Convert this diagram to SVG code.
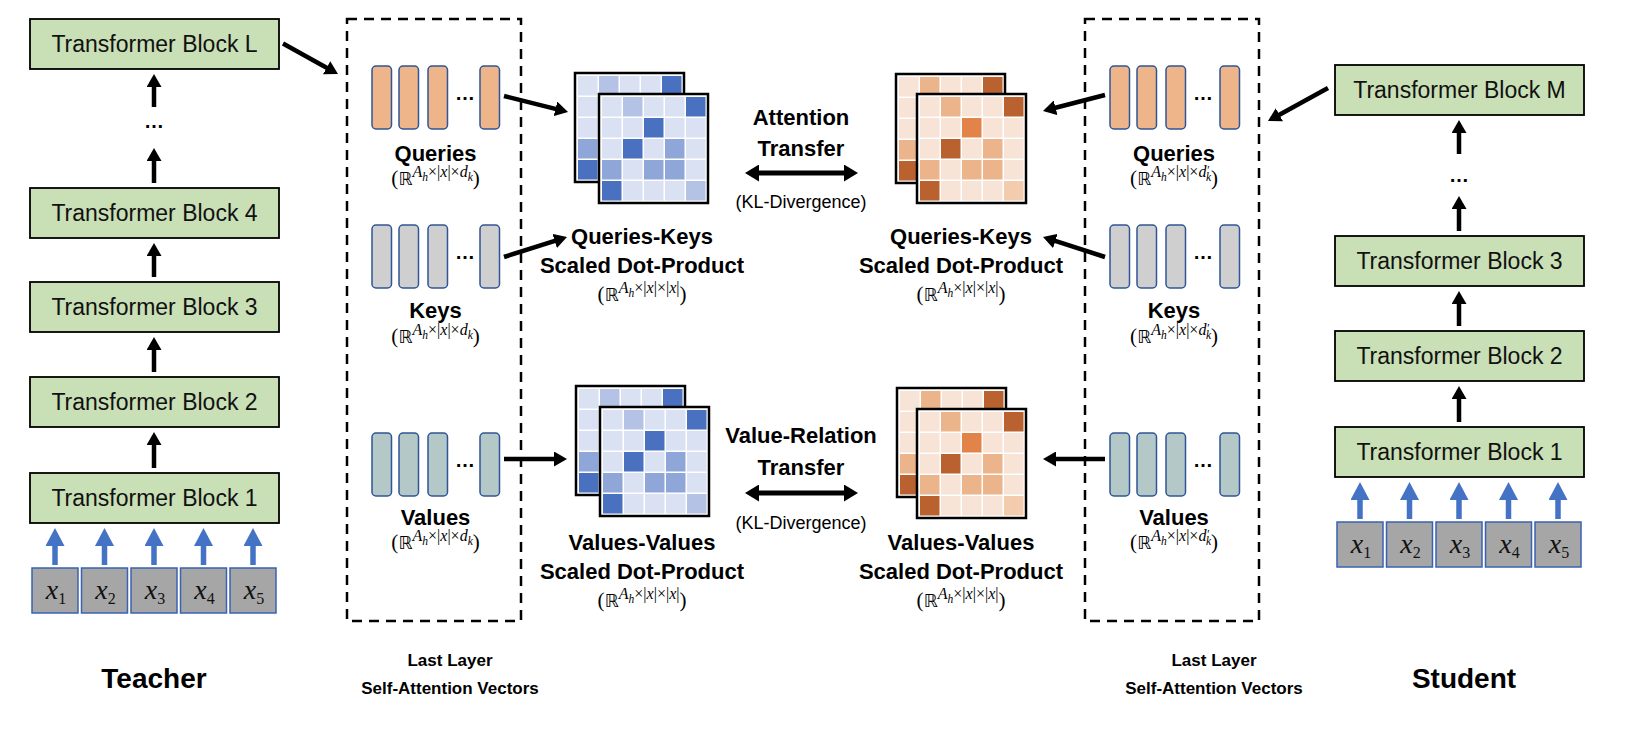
<svg xmlns="http://www.w3.org/2000/svg" width="1630" height="734" viewBox="0 0 1630 734">
<style>
.blk{fill:#C9DFB6;stroke:#000;stroke-width:1.8}
.bt{font-family:"Liberation Sans",Arial,sans-serif;font-size:23px;fill:#111;text-anchor:middle}
.tok{fill:#A6A6A6;stroke:#3A62B0;stroke-width:1.5}
.tt{font-family:"Liberation Serif","DejaVu Serif",serif;font-style:italic;font-size:28px;fill:#111;text-anchor:middle}
.ts{font-style:normal;font-size:16px}
.dash{fill:none;stroke:#000;stroke-width:2.5;stroke-dasharray:10 7}
.barq{fill:#EEB48A;stroke:#2F5597;stroke-width:1.5}
.bark{fill:#CFCFCF;stroke:#2F5597;stroke-width:1.5}
.barv{fill:#B4C8C8;stroke:#2F5597;stroke-width:1.5}
.lbl{font-family:"Liberation Sans",Arial,sans-serif;font-weight:bold;font-size:22px;fill:#000;text-anchor:middle}
.big{font-family:"Liberation Sans",Arial,sans-serif;font-weight:bold;font-size:28px;fill:#000;text-anchor:middle}
.sm{font-family:"Liberation Sans",Arial,sans-serif;font-weight:bold;font-size:17px;fill:#000;text-anchor:middle}
.kl{font-family:"Liberation Sans",Arial,sans-serif;font-size:18px;fill:#000;text-anchor:middle}
.dots{font-family:"Liberation Sans",Arial,sans-serif;font-weight:bold;font-size:20px;fill:#000;text-anchor:middle}
.math{font-family:"Liberation Serif","DejaVu Serif",serif;font-size:21px;fill:#000;text-anchor:middle}
.bb{font-family:"DejaVu Sans",sans-serif;font-size:18px}
.sup{font-size:16px;font-style:italic}
.supn{font-size:16px}
.sub{font-size:11.5px;font-style:italic}
.ar{stroke:#000;stroke-width:4.5;fill:none}
.arb{stroke:#4472C4;stroke-width:5.5;fill:none}
.ard{stroke:#000;stroke-width:5;fill:none}
.mf{fill:#fff;stroke:#000;stroke-width:2.5}
.bL{fill:#DAE1F2}.bM{fill:#B4C3E5}.bN{fill:#8FA6D8}.bD{fill:#4A70C0}
.oL{fill:#F8E4D6}.oM{fill:#EBB48A}.oO{fill:#E2844A}.oD{fill:#BA6130}.oP{fill:#F3CBAD}
</style>
<defs>
<marker id="ah" markerUnits="userSpaceOnUse" viewBox="0 0 13 15" markerWidth="13" markerHeight="15" refX="1" refY="7.5" orient="auto"><path d="M0,0L13,7.5L0,15z" fill="#000"/></marker>
<marker id="ab" markerUnits="userSpaceOnUse" viewBox="0 0 18 19" markerWidth="18" markerHeight="19" refX="1" refY="9.5" orient="auto"><path d="M0,0L18,9.5L0,19z" fill="#4472C4"/></marker>
<marker id="ad" markerUnits="userSpaceOnUse" viewBox="0 0 14 17" markerWidth="14" markerHeight="17" refX="1" refY="8.5" orient="auto-start-reverse"><path d="M0,0L14,8.5L0,17z" fill="#000"/></marker>
<rect id="bar" width="19.5" height="63" rx="4"/>
<rect id="blkr" width="249" height="50"/>
<rect id="tokr" width="46" height="45"/>
<g id="matB">
<rect class="mf" x="0" y="0" width="109" height="109"/>
<rect class="bL" x="3" y="3" width="19.5" height="19.5"/><rect class="bM" x="24" y="3" width="19.5" height="19.5"/><rect class="bL" x="45" y="3" width="19.5" height="19.5"/><rect class="bL" x="66" y="3" width="19.5" height="19.5"/><rect class="bD" x="87" y="3" width="19.5" height="19.5"/>
<rect class="bL" x="3" y="24" width="19.5" height="19.5"/><rect class="bL" x="24" y="24" width="19.5" height="19.5"/><rect class="bD" x="45" y="24" width="19.5" height="19.5"/><rect class="bL" x="66" y="24" width="19.5" height="19.5"/><rect class="bL" x="87" y="24" width="19.5" height="19.5"/>
<rect class="bL" x="3" y="45" width="19.5" height="19.5"/><rect class="bD" x="24" y="45" width="19.5" height="19.5"/><rect class="bL" x="45" y="45" width="19.5" height="19.5"/><rect class="bN" x="66" y="45" width="19.5" height="19.5"/><rect class="bL" x="87" y="45" width="19.5" height="19.5"/>
<rect class="bN" x="3" y="66" width="19.5" height="19.5"/><rect class="bL" x="24" y="66" width="19.5" height="19.5"/><rect class="bN" x="45" y="66" width="19.5" height="19.5"/><rect class="bN" x="66" y="66" width="19.5" height="19.5"/><rect class="bL" x="87" y="66" width="19.5" height="19.5"/>
<rect class="bD" x="3" y="87" width="19.5" height="19.5"/><rect class="bL" x="24" y="87" width="19.5" height="19.5"/><rect class="bL" x="45" y="87" width="19.5" height="19.5"/><rect class="bL" x="66" y="87" width="19.5" height="19.5"/><rect class="bM" x="87" y="87" width="19.5" height="19.5"/>
</g>
<g id="matO">
<rect class="mf" x="0" y="0" width="109" height="109"/>
<rect class="oL" x="3" y="3" width="19.5" height="19.5"/><rect class="oM" x="24" y="3" width="19.5" height="19.5"/><rect class="oL" x="45" y="3" width="19.5" height="19.5"/><rect class="oL" x="66" y="3" width="19.5" height="19.5"/><rect class="oD" x="87" y="3" width="19.5" height="19.5"/>
<rect class="oL" x="3" y="24" width="19.5" height="19.5"/><rect class="oL" x="24" y="24" width="19.5" height="19.5"/><rect class="oO" x="45" y="24" width="19.5" height="19.5"/><rect class="oL" x="66" y="24" width="19.5" height="19.5"/><rect class="oL" x="87" y="24" width="19.5" height="19.5"/>
<rect class="oL" x="3" y="45" width="19.5" height="19.5"/><rect class="oD" x="24" y="45" width="19.5" height="19.5"/><rect class="oL" x="45" y="45" width="19.5" height="19.5"/><rect class="oM" x="66" y="45" width="19.5" height="19.5"/><rect class="oL" x="87" y="45" width="19.5" height="19.5"/>
<rect class="oM" x="3" y="66" width="19.5" height="19.5"/><rect class="oL" x="24" y="66" width="19.5" height="19.5"/><rect class="oM" x="45" y="66" width="19.5" height="19.5"/><rect class="oM" x="66" y="66" width="19.5" height="19.5"/><rect class="oL" x="87" y="66" width="19.5" height="19.5"/>
<rect class="oD" x="3" y="87" width="19.5" height="19.5"/><rect class="oL" x="24" y="87" width="19.5" height="19.5"/><rect class="oL" x="45" y="87" width="19.5" height="19.5"/><rect class="oL" x="66" y="87" width="19.5" height="19.5"/><rect class="oP" x="87" y="87" width="19.5" height="19.5"/>
</g>
</defs>
<rect width="1630" height="734" fill="#fff"/>

<!-- Teacher -->
<g id="teacher">
<g id="t-blockL"><use href="#blkr" class="blk" x="30" y="19"/><text class="bt" x="154.5" y="52">Transformer Block L</text></g>
<text class="dots" x="154" y="128" font-size="22">…</text>
<g id="t-block4"><use href="#blkr" class="blk" x="30" y="188"/><text class="bt" x="154.5" y="221">Transformer Block 4</text></g>
<g id="t-block3"><use href="#blkr" class="blk" x="30" y="282"/><text class="bt" x="154.5" y="315">Transformer Block 3</text></g>
<g id="t-block2"><use href="#blkr" class="blk" x="30" y="377"/><text class="bt" x="154.5" y="410">Transformer Block 2</text></g>
<g id="t-block1"><use href="#blkr" class="blk" x="30" y="473"/><text class="bt" x="154.5" y="506">Transformer Block 1</text></g>
<g id="t-tokens">
<use href="#tokr" class="tok" x="32" y="568"/><text class="tt" x="56" y="599">x<tspan class="ts" dy="5">1</tspan></text>
<use href="#tokr" class="tok" x="81.5" y="568"/><text class="tt" x="105.5" y="599">x<tspan class="ts" dy="5">2</tspan></text>
<use href="#tokr" class="tok" x="131" y="568"/><text class="tt" x="155" y="599">x<tspan class="ts" dy="5">3</tspan></text>
<use href="#tokr" class="tok" x="180.5" y="568"/><text class="tt" x="204.5" y="599">x<tspan class="ts" dy="5">4</tspan></text>
<use href="#tokr" class="tok" x="230" y="568"/><text class="tt" x="254" y="599">x<tspan class="ts" dy="5">5</tspan></text>
</g>
<text class="big" x="154" y="688">Teacher</text>
</g>

<!-- Student -->
<g id="student">
<g id="s-blockM"><use href="#blkr" class="blk" x="1335" y="65"/><text class="bt" x="1459.5" y="98">Transformer Block M</text></g>
<text class="dots" x="1459" y="182" font-size="22">…</text>
<g id="s-block3"><use href="#blkr" class="blk" x="1335" y="236"/><text class="bt" x="1459.5" y="269">Transformer Block 3</text></g>
<g id="s-block2"><use href="#blkr" class="blk" x="1335" y="331"/><text class="bt" x="1459.5" y="364">Transformer Block 2</text></g>
<g id="s-block1"><use href="#blkr" class="blk" x="1335" y="427"/><text class="bt" x="1459.5" y="460">Transformer Block 1</text></g>
<g id="s-tokens">
<use href="#tokr" class="tok" x="1337" y="522"/><text class="tt" x="1361" y="553">x<tspan class="ts" dy="5">1</tspan></text>
<use href="#tokr" class="tok" x="1386.5" y="522"/><text class="tt" x="1410.5" y="553">x<tspan class="ts" dy="5">2</tspan></text>
<use href="#tokr" class="tok" x="1436" y="522"/><text class="tt" x="1460" y="553">x<tspan class="ts" dy="5">3</tspan></text>
<use href="#tokr" class="tok" x="1485.5" y="522"/><text class="tt" x="1509.5" y="553">x<tspan class="ts" dy="5">4</tspan></text>
<use href="#tokr" class="tok" x="1535" y="522"/><text class="tt" x="1559" y="553">x<tspan class="ts" dy="5">5</tspan></text>
</g>
<text class="big" x="1464" y="688">Student</text>
</g>

<!-- Teacher self-attention vectors -->
<g id="t-vectors">
<rect class="dash" x="347" y="19" width="174" height="602"/>
<g id="t-queries">
<use href="#bar" class="barq" x="372" y="66"/><use href="#bar" class="barq" x="399" y="66"/><use href="#bar" class="barq" x="428" y="66"/><use href="#bar" class="barq" x="480" y="66"/>
<text class="dots" x="465" y="100">…</text>
<text class="lbl" x="435.5" y="161">Queries</text>
<text class="math" x="435.5" y="185">(<tspan class="bb">ℝ</tspan><tspan class="sup" dy="-8">A</tspan><tspan class="sub" dy="4">h</tspan><tspan class="supn" dy="-4">×|</tspan><tspan class="sup">x</tspan><tspan class="supn">|×</tspan><tspan class="sup">d</tspan><tspan class="sub" dy="4">k</tspan><tspan dy="4">)</tspan></text>
</g>
<g id="t-keys">
<use href="#bar" class="bark" x="372" y="225"/><use href="#bar" class="bark" x="399" y="225"/><use href="#bar" class="bark" x="428" y="225"/><use href="#bar" class="bark" x="480" y="225"/>
<text class="dots" x="465" y="259">…</text>
<text class="lbl" x="435.5" y="318">Keys</text>
<text class="math" x="435.5" y="343">(<tspan class="bb">ℝ</tspan><tspan class="sup" dy="-8">A</tspan><tspan class="sub" dy="4">h</tspan><tspan class="supn" dy="-4">×|</tspan><tspan class="sup">x</tspan><tspan class="supn">|×</tspan><tspan class="sup">d</tspan><tspan class="sub" dy="4">k</tspan><tspan dy="4">)</tspan></text>
</g>
<g id="t-values">
<use href="#bar" class="barv" x="372" y="433"/><use href="#bar" class="barv" x="399" y="433"/><use href="#bar" class="barv" x="428" y="433"/><use href="#bar" class="barv" x="480" y="433"/>
<text class="dots" x="465" y="467">…</text>
<text class="lbl" x="435.5" y="525">Values</text>
<text class="math" x="435.5" y="549">(<tspan class="bb">ℝ</tspan><tspan class="sup" dy="-8">A</tspan><tspan class="sub" dy="4">h</tspan><tspan class="supn" dy="-4">×|</tspan><tspan class="sup">x</tspan><tspan class="supn">|×</tspan><tspan class="sup">d</tspan><tspan class="sub" dy="4">k</tspan><tspan dy="4">)</tspan></text>
</g>
<text class="sm" x="450" y="666">Last Layer</text>
<text class="sm" x="450" y="694">Self-Attention Vectors</text>
</g>

<!-- Student self-attention vectors -->
<g id="s-vectors">
<rect class="dash" x="1085" y="19" width="174" height="602"/>
<g id="s-queries">
<use href="#bar" class="barq" x="1110" y="66"/><use href="#bar" class="barq" x="1137" y="66"/><use href="#bar" class="barq" x="1166" y="66"/><use href="#bar" class="barq" x="1220" y="66"/>
<text class="dots" x="1203" y="100">…</text>
<text class="lbl" x="1174" y="161">Queries</text>
<text class="math" x="1174" y="185">(<tspan class="bb">ℝ</tspan><tspan class="sup" dy="-8">A</tspan><tspan class="sub" dy="4">h</tspan><tspan class="supn" dy="-4">×|</tspan><tspan class="sup">x</tspan><tspan class="supn">|×</tspan><tspan class="sup">d</tspan><tspan class="sub" dy="-3">′</tspan><tspan class="sub" dx="-3" dy="7">k</tspan><tspan dy="4">)</tspan></text>
</g>
<g id="s-keys">
<use href="#bar" class="bark" x="1110" y="225"/><use href="#bar" class="bark" x="1137" y="225"/><use href="#bar" class="bark" x="1166" y="225"/><use href="#bar" class="bark" x="1220" y="225"/>
<text class="dots" x="1203" y="259">…</text>
<text class="lbl" x="1174" y="318">Keys</text>
<text class="math" x="1174" y="343">(<tspan class="bb">ℝ</tspan><tspan class="sup" dy="-8">A</tspan><tspan class="sub" dy="4">h</tspan><tspan class="supn" dy="-4">×|</tspan><tspan class="sup">x</tspan><tspan class="supn">|×</tspan><tspan class="sup">d</tspan><tspan class="sub" dy="-3">′</tspan><tspan class="sub" dx="-3" dy="7">k</tspan><tspan dy="4">)</tspan></text>
</g>
<g id="s-values">
<use href="#bar" class="barv" x="1110" y="433"/><use href="#bar" class="barv" x="1137" y="433"/><use href="#bar" class="barv" x="1166" y="433"/><use href="#bar" class="barv" x="1220" y="433"/>
<text class="dots" x="1203" y="467">…</text>
<text class="lbl" x="1174" y="525">Values</text>
<text class="math" x="1174" y="549">(<tspan class="bb">ℝ</tspan><tspan class="sup" dy="-8">A</tspan><tspan class="sub" dy="4">h</tspan><tspan class="supn" dy="-4">×|</tspan><tspan class="sup">x</tspan><tspan class="supn">|×</tspan><tspan class="sup">d</tspan><tspan class="sub" dy="-3">′</tspan><tspan class="sub" dx="-3" dy="7">k</tspan><tspan dy="4">)</tspan></text>
</g>
<text class="sm" x="1214" y="666">Last Layer</text>
<text class="sm" x="1214" y="694">Self-Attention Vectors</text>
</g>

<!-- Matrices -->
<g id="t-qk-matrix">
<use href="#matB" x="575" y="73"/><use href="#matB" x="599" y="94"/>
<text class="lbl" x="642" y="244">Queries-Keys</text>
<text class="lbl" x="642" y="273">Scaled Dot-Product</text>
<text class="math" x="642" y="301">(<tspan class="bb">ℝ</tspan><tspan class="sup" dy="-8">A</tspan><tspan class="sub" dy="4">h</tspan><tspan class="supn" dy="-4">×|</tspan><tspan class="sup">x</tspan><tspan class="supn">|×|</tspan><tspan class="sup">x</tspan><tspan class="supn">|</tspan><tspan dy="8">)</tspan></text>
</g>
<g id="t-vv-matrix">
<use href="#matB" x="576" y="386"/><use href="#matB" x="600" y="407"/>
<text class="lbl" x="642" y="550">Values-Values</text>
<text class="lbl" x="642" y="579">Scaled Dot-Product</text>
<text class="math" x="642" y="607">(<tspan class="bb">ℝ</tspan><tspan class="sup" dy="-8">A</tspan><tspan class="sub" dy="4">h</tspan><tspan class="supn" dy="-4">×|</tspan><tspan class="sup">x</tspan><tspan class="supn">|×|</tspan><tspan class="sup">x</tspan><tspan class="supn">|</tspan><tspan dy="8">)</tspan></text>
</g>
<g id="s-qk-matrix">
<use href="#matO" x="896" y="74"/><use href="#matO" x="917" y="94"/>
<text class="lbl" x="961" y="244">Queries-Keys</text>
<text class="lbl" x="961" y="273">Scaled Dot-Product</text>
<text class="math" x="961" y="301">(<tspan class="bb">ℝ</tspan><tspan class="sup" dy="-8">A</tspan><tspan class="sub" dy="4">h</tspan><tspan class="supn" dy="-4">×|</tspan><tspan class="sup">x</tspan><tspan class="supn">|×|</tspan><tspan class="sup">x</tspan><tspan class="supn">|</tspan><tspan dy="8">)</tspan></text>
</g>
<g id="s-vv-matrix">
<use href="#matO" x="897" y="388"/><use href="#matO" x="917" y="409"/>
<text class="lbl" x="961" y="550">Values-Values</text>
<text class="lbl" x="961" y="579">Scaled Dot-Product</text>
<text class="math" x="961" y="607">(<tspan class="bb">ℝ</tspan><tspan class="sup" dy="-8">A</tspan><tspan class="sub" dy="4">h</tspan><tspan class="supn" dy="-4">×|</tspan><tspan class="sup">x</tspan><tspan class="supn">|×|</tspan><tspan class="sup">x</tspan><tspan class="supn">|</tspan><tspan dy="8">)</tspan></text>
</g>

<!-- Transfer labels -->
<g id="attention-transfer">
<text class="lbl" x="801" y="125">Attention</text>
<text class="lbl" x="801" y="156">Transfer</text>
<text class="kl" x="801" y="208">(KL-Divergence)</text>
</g>
<g id="value-transfer">
<text class="lbl" x="801" y="443">Value-Relation</text>
<text class="lbl" x="801" y="475">Transfer</text>
<text class="kl" x="801" y="529">(KL-Divergence)</text>
</g>

<!-- Connectors -->
<g id="connectors">
<line class="ar" x1="154" y1="107" x2="154" y2="86" marker-end="url(#ah)"/>
<line class="ar" x1="154" y1="183" x2="154" y2="160" marker-end="url(#ah)"/>
<line class="ar" x1="154" y1="277" x2="154" y2="255" marker-end="url(#ah)"/>
<line class="ar" x1="154" y1="372" x2="154" y2="349" marker-end="url(#ah)"/>
<line class="ar" x1="154" y1="468" x2="154" y2="444" marker-end="url(#ah)"/>
<line class="arb" x1="55" y1="565" x2="55" y2="545" marker-end="url(#ab)"/>
<line class="arb" x1="104.5" y1="565" x2="104.5" y2="545" marker-end="url(#ab)"/>
<line class="arb" x1="154" y1="565" x2="154" y2="545" marker-end="url(#ab)"/>
<line class="arb" x1="203.5" y1="565" x2="203.5" y2="545" marker-end="url(#ab)"/>
<line class="arb" x1="253" y1="565" x2="253" y2="545" marker-end="url(#ab)"/>
<line class="ar" x1="1459" y1="154" x2="1459" y2="132" marker-end="url(#ah)"/>
<line class="ar" x1="1459" y1="231" x2="1459" y2="208" marker-end="url(#ah)"/>
<line class="ar" x1="1459" y1="326" x2="1459" y2="303" marker-end="url(#ah)"/>
<line class="ar" x1="1459" y1="422" x2="1459" y2="398" marker-end="url(#ah)"/>
<line class="arb" x1="1360" y1="519" x2="1360" y2="499" marker-end="url(#ab)"/>
<line class="arb" x1="1409.5" y1="519" x2="1409.5" y2="499" marker-end="url(#ab)"/>
<line class="arb" x1="1459" y1="519" x2="1459" y2="499" marker-end="url(#ab)"/>
<line class="arb" x1="1508.5" y1="519" x2="1508.5" y2="499" marker-end="url(#ab)"/>
<line class="arb" x1="1558" y1="519" x2="1558" y2="499" marker-end="url(#ab)"/>
<line class="ar" x1="283" y1="43.5" x2="327.5" y2="68.2" marker-end="url(#ah)"/>
<line class="ar" x1="1328" y1="88" x2="1278.5" y2="115.2" marker-end="url(#ah)"/>
<line class="ar" x1="504" y1="96" x2="556.4" y2="109.1" marker-end="url(#ah)"/>
<line class="ar" x1="504" y1="257" x2="555.6" y2="240.6" marker-end="url(#ah)"/>
<line class="ar" x1="504" y1="459" x2="555" y2="459" marker-end="url(#ah)"/>
<line class="ar" x1="1105" y1="95" x2="1054.6" y2="108" marker-end="url(#ah)"/>
<line class="ar" x1="1105" y1="257" x2="1054.4" y2="240.7" marker-end="url(#ah)"/>
<line class="ar" x1="1105" y1="459" x2="1055" y2="459" marker-end="url(#ah)"/>
<line class="ard" x1="758" y1="173" x2="845" y2="173" marker-start="url(#ad)" marker-end="url(#ad)"/>
<line class="ard" x1="758" y1="493" x2="845" y2="493" marker-start="url(#ad)" marker-end="url(#ad)"/>
</g>
</svg>
